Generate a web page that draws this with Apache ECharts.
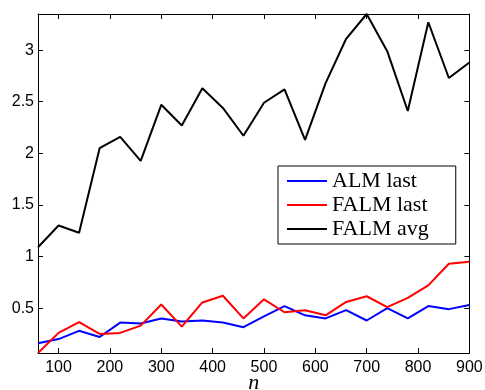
<!DOCTYPE html>
<html><head><meta charset="utf-8">
<script src="https://cdn.jsdelivr.net/npm/echarts@6/dist/echarts.min.js"></script>
<style>html,body{margin:0;padding:0;background:#fff}#c{width:485px;height:390px}</style>
</head><body><div id="c"></div>
<script>
const nValues = [60,100,140,180,220,260,300,340,380,420,460,500,540,580,620,660,700,740,780,820,860,900];
const almLast = [0.16,0.20,0.28,0.22,0.36,0.35,0.40,0.37,0.38,0.36,0.315,0.42,0.52,0.43,0.40,0.48,0.38,0.50,0.40,0.52,0.49,0.53];
const falmLast = [0.065,0.26,0.365,0.25,0.26,0.33,0.535,0.32,0.555,0.62,0.40,0.585,0.46,0.48,0.43,0.56,0.615,0.51,0.60,0.72,0.93,0.95];
const falmAvg = [1.09,1.30,1.23,2.05,2.16,1.926,2.47,2.27,2.63,2.44,2.17,2.49,2.62,2.13,2.68,3.11,3.35,2.99,2.41,3.27,2.73,2.88];
const xTicks = [100,200,300,400,500,600,700,800,900];
const yTicks = [0.5,1,1.5,2,2.5,3];
const seriesNames = ['ALM last','FALM last','FALM avg'];

const pairs = ys => nValues.map((n,i)=>[n, ys[i]]);
const tickFont = {fontFamily:'Liberation Sans', fontSize:16, color:'#000'};
const xMin = 60, xMax = 900, yMin = 0.065, yMax = 3.35;

const xBase = {type:'value', min:xMin, max:xMax,
  axisLine:{show:true, onZero:false, lineStyle:{color:'#000', width:1}},
  axisTick:{show:true, inside:true, length:5, lineStyle:{color:'#000'}, customValues:xTicks},
  splitLine:{show:false}};
const yBase = {type:'value', min:yMin, max:yMax,
  axisLine:{show:true, onZero:false, lineStyle:{color:'#000', width:1}},
  axisTick:{show:true, inside:true, length:5, lineStyle:{color:'#000'}, customValues:yTicks},
  splitLine:{show:false}};

const chart = echarts.init(document.getElementById('c'), null, {renderer:'canvas'});
chart.setOption({
  animation:false,
  backgroundColor:'#fff',
  grid:{left:38, right:15.6, top:14, bottom:37, containLabel:false, outerBoundsMode:'none'},
  legend:{
    data:seriesNames, orient:'vertical', left:278, top:166,
    padding:[4,27,4,9], itemGap:2, itemWidth:40, itemHeight:2, icon:'rect',
    borderColor:'#000', borderWidth:1, backgroundColor:'#fff',
    textStyle:{fontFamily:'Liberation Serif', fontSize:22, color:'#000'}
  },
  xAxis:[
    Object.assign({}, xBase, {position:'bottom',
      axisLabel:Object.assign({show:true, margin:7, customValues:xTicks}, tickFont),
      name:'n', nameLocation:'middle', nameGap:19, nameMoveOverlap:false,
      nameTextStyle:{fontFamily:'Liberation Serif', fontStyle:'italic', fontSize:22, color:'#000'}}),
    Object.assign({}, xBase, {position:'top', axisLabel:{show:false}})
  ],
  yAxis:[
    Object.assign({}, yBase, {position:'left',
      axisLabel:Object.assign({show:true, margin:4, customValues:yTicks}, tickFont)}),
    Object.assign({}, yBase, {position:'right', axisLabel:{show:false}})
  ],
  series:[
    {name:seriesNames[0], type:'line', data:pairs(almLast), symbol:'none', lineStyle:{color:'#0000ff', width:2}, itemStyle:{color:'#0000ff'}},
    {name:seriesNames[1], type:'line', data:pairs(falmLast), symbol:'none', lineStyle:{color:'#ff0000', width:2}, itemStyle:{color:'#ff0000'}},
    {name:seriesNames[2], type:'line', data:pairs(falmAvg), symbol:'none', lineStyle:{color:'#000000', width:2}, itemStyle:{color:'#000000'}}
  ]
});
</script></body></html>
